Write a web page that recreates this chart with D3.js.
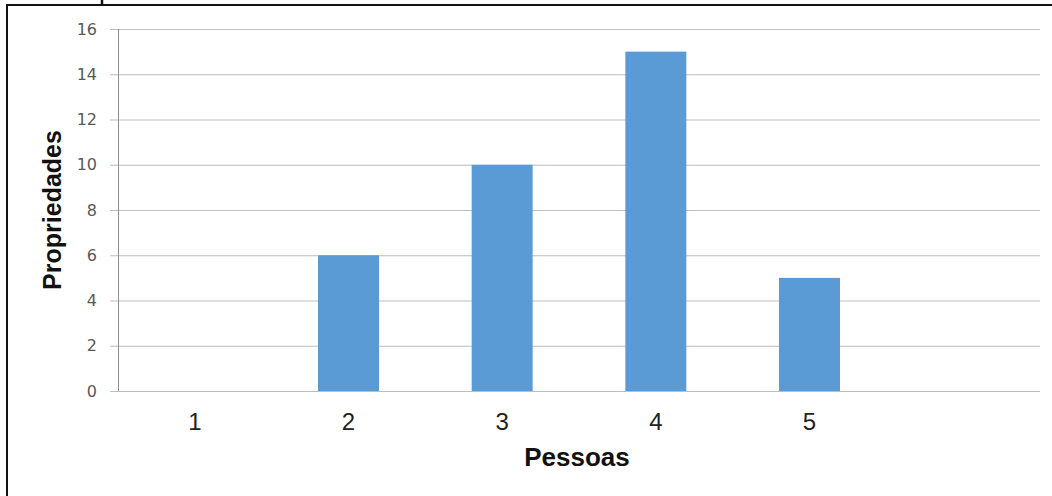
<!DOCTYPE html>
<html>
<head>
<meta charset="utf-8">
<script src="https://cdn.jsdelivr.net/npm/d3@7"></script>
<style>
  html, body { margin: 0; padding: 0; background: #fff; }
  svg { display: block; }
</style>
</head>
<body>
<svg id="chart" width="1052" height="496"></svg>
<script>
// Number of properties by number of people
const categories = ["1", "2", "3", "4", "5", ""];
const values = [0, 6, 10, 15, 5, null];
const yTicks = [0, 2, 4, 6, 8, 10, 12, 14, 16];

const svg = d3.select("#chart");
const W = 1052, H = 496;
const margin = { left: 118, right: 12, top: 29, bottom: 105 };
const plotW = W - margin.left - margin.right;
const plotH = H - margin.top - margin.bottom;

// frame: top and left edges
svg.append("line").attr("x1", 6).attr("x2", W).attr("y1", 5).attr("y2", 5)
  .attr("stroke", "#111").attr("stroke-width", 2);
svg.append("line").attr("x1", 7).attr("x2", 7).attr("y1", 4).attr("y2", H)
  .attr("stroke", "#111").attr("stroke-width", 2);
svg.append("line").attr("x1", 102).attr("x2", 102).attr("y1", 0).attr("y2", 5)
  .attr("stroke", "#111").attr("stroke-width", 2.5);

const g = svg.append("g").attr("transform", `translate(${margin.left},${margin.top})`);

const xc = d3.scaleBand().domain(categories.map((c, i) => i)).range([0, plotW]);
const y = d3.scaleLinear().domain([0, 16]).range([plotH, 0]);

// horizontal gridlines with tick stubs
const yAxis = d3.axisLeft(y).tickValues(yTicks).tickSize(-plotW).tickPadding(21);
const ya = g.append("g").call(yAxis);
ya.attr("font-size", null).attr("font-family", null);
ya.select(".domain").remove();
ya.selectAll(".tick line").attr("x1", -8).attr("stroke", "#bdbdbd").attr("stroke-width", 1.2);
ya.selectAll(".tick text")
  .attr("font-family", "'DejaVu Sans', sans-serif")
  .style("font-size", "16px").attr("fill", "#595959");

// vertical axis line
g.append("line").attr("x1", 0.5).attr("x2", 0.5).attr("y1", 0).attr("y2", plotH)
  .attr("stroke", "#8c8c8c").attr("stroke-width", 1);

// bars
g.selectAll("rect.bar")
  .data(values.map((v, i) => ({ i, v })).filter(d => d.v != null && d.v > 0))
  .enter().append("rect").attr("class", "bar")
  .attr("x", d => xc(d.i) + xc.bandwidth() / 2 - 30.5)
  .attr("width", 61)
  .attr("y", d => y(d.v))
  .attr("height", d => y(0) - y(d.v))
  .attr("fill", "#5b9bd5");

// category labels
g.selectAll("text.cat")
  .data(categories).enter().append("text").attr("class", "cat")
  .attr("x", (d, i) => xc(i) + xc.bandwidth() / 2)
  .attr("y", plotH + 39)
  .attr("text-anchor", "middle")
  .attr("font-family", "'Liberation Sans', Arial, sans-serif")
  .attr("font-size", 24).attr("fill", "#222")
  .text(d => d);

// axis titles
svg.append("text")
  .attr("x", margin.left + plotW / 2 - 2).attr("y", 466)
  .attr("text-anchor", "middle")
  .attr("font-family", "'Liberation Sans', Arial, sans-serif")
  .attr("font-weight", "bold").attr("font-size", 26).attr("fill", "#111")
  .text("Pessoas");

svg.append("text")
  .attr("transform", "translate(61,210) rotate(-90)")
  .attr("text-anchor", "middle")
  .attr("font-family", "'Liberation Sans', Arial, sans-serif")
  .attr("font-weight", "bold").attr("font-size", 25).attr("fill", "#111")
  .text("Propriedades");
</script>
</body>
</html>
